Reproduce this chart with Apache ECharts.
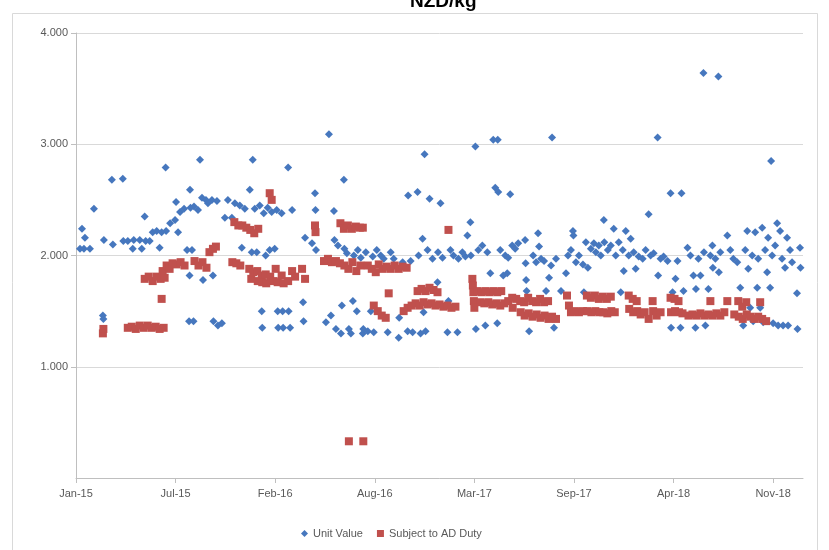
<!DOCTYPE html>
<html>
<head>
<meta charset="utf-8">
<script src="https://cdn.jsdelivr.net/npm/echarts@6/dist/echarts.min.js"></script>
<style>
  html, body { margin: 0; padding: 0; background: #fff; }
  #chart { width: 829px; height: 550px; }
</style>
</head>
<body>
<div id="chart"></div>
<script>
// Weekly unit values, NZD per kg
const unitValue = [
  ['2015-01-09',2.06],['2015-01-13',2.24],['2015-01-17',2.06],['2015-01-19',2.16],['2015-01-29',2.06],
  ['2015-02-06',2.42],['2015-02-24',1.46],['2015-02-25',1.43],['2015-02-26',2.14],['2015-03-14',2.68],
  ['2015-03-16',2.10],['2015-04-05',2.69],['2015-04-06',2.13],['2015-04-15',2.13],['2015-04-25',2.06],
  ['2015-04-27',2.14],['2015-05-09',2.14],['2015-05-13',2.06],['2015-05-19',2.35],['2015-05-21',2.13],
  ['2015-05-29',2.13],['2015-06-04',2.21],['2015-06-12',2.22],['2015-06-18',2.07],['2015-06-22',2.21],
  ['2015-06-30',2.79],['2015-07-01',2.22],['2015-07-09',2.29],['2015-07-19',2.32],['2015-07-21',2.48],
  ['2015-07-25',2.21],['2015-07-29',2.39],['2015-08-06',2.42],['2015-08-12',2.05],['2015-08-16',1.41],
  ['2015-08-17',1.82],['2015-08-18',2.59],['2015-08-19',2.43],['2015-08-22',2.05],['2015-08-25',1.41],
  ['2015-08-26',2.44],['2015-09-03',2.41],['2015-09-07',2.86],['2015-09-11',2.52],['2015-09-13',1.78],
  ['2015-09-19',2.50],['2015-09-23',2.47],['2015-10-01',2.50],['2015-10-03',1.82],['2015-10-04',1.41],
  ['2015-10-11',2.49],['2015-10-13',1.37],['2015-10-21',1.39],['2015-10-27',2.34],['2015-11-02',2.50],
  ['2015-11-10',2.34],['2015-11-16',2.47],['2015-11-26',2.45],['2015-11-30',2.07],['2015-12-06',2.42],
  ['2015-12-16',2.59],['2015-12-20',2.03],['2015-12-22',2.86],['2015-12-26',2.42],['2015-12-30',2.03],
  ['2016-01-05',2.45],['2016-01-09',1.50],['2016-01-10',1.35],['2016-01-13',2.38],['2016-01-17',2.00],
  ['2016-01-21',2.43],['2016-01-25',2.05],['2016-01-29',2.39],['2016-02-04',2.06],['2016-02-08',2.41],
  ['2016-02-10',1.50],['2016-02-11',1.35],['2016-02-18',2.38],['2016-02-20',1.50],['2016-02-21',1.35],
  ['2016-03-02',2.79],['2016-03-03',1.50],['2016-03-06',1.35],['2016-03-10',2.41],['2016-04-01',1.58],
  ['2016-04-02',1.41],['2016-04-05',2.16],['2016-04-19',2.11],['2016-04-25',2.56],['2016-04-26',2.41],
  ['2016-04-27',2.05],['2016-05-17',1.40],['2016-05-23',3.09],['2016-05-27',1.46],['2016-06-02',2.40],
  ['2016-06-03',2.14],['2016-06-06',1.34],['2016-06-10',2.09],['2016-06-16',1.30],['2016-06-18',1.55],
  ['2016-06-22',2.68],['2016-06-23',2.06],['2016-06-28',2.02],['2016-07-02',1.34],['2016-07-06',1.30],
  ['2016-07-10',1.59],['2016-07-12',2.00],['2016-07-18',1.50],['2016-07-20',2.05],['2016-07-26',1.98],
  ['2016-07-30',1.30],['2016-07-31',1.34],['2016-08-05',2.03],['2016-08-09',1.32],['2016-08-15',1.50],
  ['2016-08-19',1.99],['2016-08-21',1.31],['2016-08-27',2.05],['2016-09-04',2.00],['2016-09-10',1.97],
  ['2016-09-18',1.31],['2016-09-24',2.03],['2016-09-30',1.97],['2016-10-10',1.26],['2016-10-11',1.44],
  ['2016-10-18',1.94],['2016-10-28',1.32],['2016-10-29',2.54],['2016-11-03',1.95],['2016-11-07',1.31],
  ['2016-11-17',2.57],['2016-11-19',2.00],['2016-11-23',1.30],['2016-11-27',2.15],['2016-11-29',1.49],
  ['2016-12-01',2.91],['2016-12-03',1.32],['2016-12-07',2.05],['2016-12-11',2.51],['2016-12-17',1.97],
  ['2016-12-27',1.76],['2016-12-28',2.03],['2017-01-02',2.47],['2017-01-06',1.98],['2017-01-16',1.31],
  ['2017-01-18',1.59],['2017-01-22',2.05],['2017-01-28',2.00],['2017-02-05',1.31],['2017-02-07',1.97],
  ['2017-02-15',2.03],['2017-02-21',1.99],['2017-02-25',2.18],['2017-03-03',2.30],['2017-03-04',2.00],
  ['2017-03-13',2.98],['2017-03-14',1.34],['2017-03-19',2.05],['2017-03-27',2.09],['2017-04-02',1.37],
  ['2017-04-06',2.03],['2017-04-12',1.84],['2017-04-18',3.04],['2017-04-22',2.61],['2017-04-26',1.39],
  ['2017-04-27',3.04],['2017-04-28',2.57],['2017-05-02',2.05],['2017-05-08',1.82],['2017-05-12',2.00],
  ['2017-05-16',1.84],['2017-05-18',1.98],['2017-05-22',2.55],['2017-05-26',2.09],['2017-06-01',2.06],
  ['2017-06-07',2.11],['2017-06-21',2.14],['2017-06-22',1.93],['2017-06-23',1.78],['2017-06-24',1.68],
  ['2017-06-29',1.32],['2017-07-07',2.00],['2017-07-13',1.94],['2017-07-17',2.20],['2017-07-19',2.08],
  ['2017-07-23',1.97],['2017-07-29',1.95],['2017-08-02',1.68],['2017-08-08',1.80],['2017-08-12',1.91],
  ['2017-08-14',3.06],['2017-08-18',1.35],['2017-08-22',1.97],['2017-09-01',1.68],['2017-09-11',1.84],
  ['2017-09-15',2.00],['2017-09-21',2.05],['2017-09-25',2.22],['2017-09-26',2.18],['2017-10-01',1.94],
  ['2017-10-07',2.00],['2017-10-15',1.92],['2017-10-17',1.67],['2017-10-21',2.12],['2017-10-25',1.89],
  ['2017-10-31',2.06],['2017-11-06',2.11],['2017-11-10',2.03],['2017-11-16',2.09],['2017-11-20',2.00],
  ['2017-11-26',2.32],['2017-11-27',2.12],['2017-12-04',2.05],['2017-12-10',2.09],['2017-12-16',2.24],
  ['2017-12-20',2.00],['2017-12-26',2.12],['2017-12-30',1.67],['2018-01-03',2.05],['2018-01-05',1.86],
  ['2018-01-09',2.22],['2018-01-15',2.00],['2018-01-19',2.15],['2018-01-25',2.03],['2018-01-29',1.88],
  ['2018-02-04',1.99],['2018-02-12',1.97],['2018-02-18',2.05],['2018-02-24',2.37],['2018-02-28',2.00],
  ['2018-03-06',2.02],['2018-03-14',3.06],['2018-03-15',1.82],['2018-03-20',1.97],['2018-03-26',1.99],
  ['2018-04-03',1.95],['2018-04-09',2.56],['2018-04-10',1.35],['2018-04-13',1.67],['2018-04-19',1.79],
  ['2018-04-23',1.95],['2018-04-29',1.35],['2018-05-01',2.56],['2018-05-05',1.68],['2018-05-13',2.07],
  ['2018-05-19',2.00],['2018-05-25',1.82],['2018-05-29',1.35],['2018-05-30',1.70],['2018-06-04',1.97],
  ['2018-06-08',1.82],['2018-06-14',3.64],['2018-06-15',2.03],['2018-06-18',1.37],['2018-06-24',1.70],
  ['2018-06-28',2.00],['2018-07-02',2.09],['2018-07-03',1.89],['2018-07-08',1.97],['2018-07-14',3.61],
  ['2018-07-15',1.85],['2018-07-18',2.03],['2018-08-01',2.18],['2018-08-07',2.05],['2018-08-13',1.97],
  ['2018-08-21',1.94],['2018-08-27',1.71],['2018-09-02',1.37],['2018-09-06',2.05],['2018-09-10',2.22],
  ['2018-09-12',1.88],['2018-09-16',1.53],['2018-09-20',2.00],['2018-09-22',1.41],['2018-09-26',2.21],
  ['2018-09-30',1.71],['2018-10-02',1.97],['2018-10-06',1.53],['2018-10-10',2.25],['2018-10-12',1.40],
  ['2018-10-16',2.05],['2018-10-20',1.85],['2018-10-22',2.16],['2018-10-26',1.71],['2018-10-28',2.85],
  ['2018-10-30',2.00],['2018-11-01',1.39],['2018-11-05',2.09],['2018-11-09',2.29],['2018-11-11',1.37],
  ['2018-11-15',2.22],['2018-11-19',1.97],['2018-11-21',1.37],['2018-11-25',1.89],['2018-11-29',2.16],
  ['2018-12-01',1.37],['2018-12-05',2.05],['2018-12-09',1.94],['2018-12-19',1.66],['2018-12-20',1.34],
  ['2018-12-25',2.07],['2018-12-26',1.89]
];

// Unit values of shipments subject to anti-dumping duty, NZD per kg
const subjectToAD = [
  ['2015-02-24',1.30],['2015-02-25',1.34],['2015-04-15',1.35],['2015-04-23',1.36],['2015-05-01',1.34],
  ['2015-05-09',1.37],['2015-05-17',1.35],['2015-05-19',1.79],['2015-05-25',1.37],['2015-05-27',1.81],
  ['2015-06-02',1.35],['2015-06-04',1.77],['2015-06-10',1.36],['2015-06-12',1.81],['2015-06-18',1.34],
  ['2015-06-20',1.79],['2015-06-22',1.61],['2015-06-24',1.86],['2015-06-26',1.35],['2015-06-28',1.80],
  ['2015-07-02',1.91],['2015-07-08',1.88],['2015-07-14',1.93],['2015-07-22',1.92],['2015-07-30',1.94],
  ['2015-08-07',1.91],['2015-08-27',1.95],['2015-09-04',1.91],['2015-09-12',1.94],['2015-09-20',1.89],
  ['2015-09-26',2.03],['2015-10-03',2.06],['2015-10-09',2.08],['2015-11-11',1.94],['2015-11-15',2.30],
  ['2015-11-19',1.93],['2015-11-23',2.27],['2015-11-27',1.91],['2015-12-01',2.27],['2015-12-09',2.25],
  ['2015-12-15',1.88],['2015-12-17',2.23],['2015-12-19',1.79],['2015-12-23',1.85],['2015-12-25',2.20],
  ['2015-12-31',1.86],['2016-01-01',1.77],['2016-01-02',2.24],['2016-01-09',1.82],['2016-01-10',1.76],
  ['2016-01-17',1.83],['2016-01-18',1.75],['2016-01-25',2.56],['2016-01-26',1.81],['2016-01-29',2.50],
  ['2016-02-02',1.77],['2016-02-06',1.88],['2016-02-10',1.76],['2016-02-18',1.82],['2016-02-22',1.75],
  ['2016-03-02',1.77],['2016-03-10',1.86],['2016-03-16',1.81],['2016-03-30',1.88],['2016-04-05',1.79],
  ['2016-04-25',2.27],['2016-04-26',2.21],['2016-05-13',1.95],['2016-05-21',1.97],['2016-05-29',1.94],
  ['2016-06-06',1.95],['2016-06-14',1.93],['2016-06-15',2.29],['2016-06-22',2.24],['2016-06-23',1.91],
  ['2016-06-30',2.27],['2016-07-01',1.88],['2016-07-02',0.33],['2016-07-08',2.24],['2016-07-09',1.94],
  ['2016-07-16',2.26],['2016-07-17',1.86],['2016-07-24',2.25],['2016-07-25',1.91],['2016-07-30',2.25],
  ['2016-07-31',0.33],['2016-08-09',1.91],['2016-08-17',1.88],['2016-08-21',1.55],['2016-08-25',1.85],
  ['2016-08-29',1.50],['2016-08-31',1.92],['2016-09-06',1.46],['2016-09-08',1.88],['2016-09-14',1.44],
  ['2016-09-16',1.90],['2016-09-20',1.66],['2016-09-24',1.88],['2016-10-02',1.91],['2016-10-10',1.88],
  ['2016-10-18',1.90],['2016-10-20',1.50],['2016-10-26',1.89],['2016-10-28',1.53],['2016-11-05',1.55],
  ['2016-11-13',1.57],['2016-11-17',1.68],['2016-11-21',1.55],['2016-11-25',1.70],['2016-11-29',1.58],
  ['2016-12-03',1.68],['2016-12-07',1.56],['2016-12-11',1.71],['2016-12-15',1.57],['2016-12-19',1.69],
  ['2016-12-23',1.55],['2016-12-27',1.67],['2016-12-31',1.56],['2017-01-08',1.54],['2017-01-16',1.55],
  ['2017-01-18',2.23],['2017-01-24',1.53],['2017-02-01',1.54],['2017-03-07',1.79],['2017-03-08',1.73],
  ['2017-03-09',1.67],['2017-03-10',1.59],['2017-03-11',1.53],['2017-03-17',1.68],['2017-03-23',1.58],
  ['2017-03-25',1.67],['2017-03-31',1.57],['2017-04-02',1.68],['2017-04-08',1.58],['2017-04-10',1.67],
  ['2017-04-16',1.56],['2017-04-18',1.68],['2017-04-24',1.57],['2017-04-26',1.67],['2017-05-02',1.55],
  ['2017-05-04',1.68],['2017-05-10',1.57],['2017-05-18',1.59],['2017-05-26',1.62],['2017-05-27',1.53],
  ['2017-06-03',1.61],['2017-06-11',1.59],['2017-06-12',1.49],['2017-06-19',1.58],['2017-06-20',1.46],
  ['2017-06-27',1.62],['2017-06-28',1.48],['2017-07-05',1.59],['2017-07-06',1.45],['2017-07-13',1.58],
  ['2017-07-14',1.47],['2017-07-21',1.61],['2017-07-22',1.44],['2017-07-29',1.58],['2017-07-30',1.46],
  ['2017-08-06',1.59],['2017-08-07',1.43],['2017-08-14',1.45],['2017-08-22',1.43],['2017-09-13',1.64],
  ['2017-09-17',1.55],['2017-09-21',1.49],['2017-09-29',1.50],['2017-10-07',1.49],['2017-10-15',1.50],
  ['2017-10-23',1.64],['2017-10-24',1.50],['2017-10-31',1.62],['2017-11-01',1.49],['2017-11-08',1.64],
  ['2017-11-09',1.50],['2017-11-16',1.61],['2017-11-17',1.49],['2017-11-24',1.63],['2017-11-25',1.49],
  ['2017-12-02',1.61],['2017-12-03',1.48],['2017-12-10',1.63],['2017-12-11',1.50],['2017-12-18',1.49],
  ['2018-01-15',1.64],['2018-01-16',1.52],['2018-01-23',1.61],['2018-01-24',1.49],['2018-01-31',1.59],
  ['2018-02-01',1.50],['2018-02-08',1.47],['2018-02-16',1.49],['2018-02-24',1.43],['2018-03-04',1.59],
  ['2018-03-05',1.50],['2018-03-12',1.46],['2018-03-20',1.49],['2018-04-09',1.62],['2018-04-10',1.49],
  ['2018-04-17',1.61],['2018-04-18',1.50],['2018-04-25',1.59],['2018-04-26',1.49],['2018-05-03',1.48],
  ['2018-05-15',1.46],['2018-05-23',1.47],['2018-05-31',1.46],['2018-06-08',1.48],['2018-06-16',1.46],
  ['2018-06-24',1.47],['2018-06-28',1.59],['2018-07-02',1.46],['2018-07-10',1.48],['2018-07-18',1.46],
  ['2018-07-26',1.49],['2018-08-01',1.59],['2018-08-15',1.47],['2018-08-23',1.59],['2018-08-24',1.45],
  ['2018-08-31',1.54],['2018-09-01',1.43],['2018-09-08',1.58],['2018-09-09',1.47],['2018-09-16',1.45],
  ['2018-09-24',1.43],['2018-10-02',1.45],['2018-10-06',1.58],['2018-10-10',1.43],['2018-10-18',1.41]
];

const seriesNames = ['Unit Value', 'Subject to AD Duty'];
const chartTitle = 'NZD/kg';
const yTicks = [0, 1, 2, 3, 4];
// date axis: one label every 200 days from 1 Jan 2015
const axisStart = '2015-01-01';
const axisEnd = '2018-12-31';
const dayStep = 200;

const MONTHS = ['Jan','Feb','Mar','Apr','May','Jun','Jul','Aug','Sep','Oct','Nov','Dec'];
const DAY_MS = 86400000;
const t0 = Date.parse(axisStart + 'T00:00:00Z');
const toDay = s => Math.round((Date.parse(s + 'T00:00:00Z') - t0) / DAY_MS);
const dayLabel = d => {
  const dt = new Date(t0 + d * DAY_MS);
  return MONTHS[dt.getUTCMonth()] + '-' + String(dt.getUTCFullYear()).slice(2);
};
const xMax = toDay(axisEnd);
const xTicks = [];
for (let d = 0; d <= xMax; d += dayStep) xTicks.push(d);

const toPoints = arr => arr.map(([d, v]) => [toDay(d), v]);

const labelFont = { fontFamily: 'Liberation Sans, Arial, sans-serif', fontSize: 11, color: '#595959' };

const chart = echarts.init(document.getElementById('chart'), null, { renderer: 'canvas' });
chart.setOption({
  animation: false,
  backgroundColor: '#ffffff',
  title: {
    text: chartTitle,
    left: 405,
    top: -13,
    textStyle: { fontFamily: 'Liberation Sans, Arial, sans-serif', fontSize: 19, fontWeight: 'bold', color: '#000' }
  },
  graphic: [{
    type: 'rect',
    shape: { x: 12.5, y: 13.5, width: 805, height: 550 },
    style: { fill: 'none', stroke: '#d9d9d9', lineWidth: 1 },
    silent: true,
    z: -1
  }],
  grid: { left: 76, right: 26, top: 33, bottom: 72, containLabel: false },
  legend: {
    data: seriesNames,
    left: 296,
    top: 523,
    itemWidth: 7,
    itemHeight: 7,
    itemGap: 14,
    textStyle: labelFont
  },
  xAxis: {
    type: 'value',
    min: 0,
    max: xMax,
    interval: dayStep,
    splitLine: { show: false },
    axisLine: { show: true, onZero: false, lineStyle: { color: '#bfbfbf' } },
    axisTick: { show: true, length: 5, customValues: xTicks, lineStyle: { color: '#bfbfbf' } },
    axisLabel: Object.assign({ margin: 10, customValues: xTicks, formatter: v => dayLabel(v) }, labelFont)
  },
  yAxis: {
    type: 'value',
    min: yTicks[0],
    max: yTicks[yTicks.length - 1],
    interval: 1,
    splitLine: { show: true, lineStyle: { color: '#d9d9d9' } },
    axisLine: { show: true, lineStyle: { color: '#bfbfbf' } },
    axisTick: { show: true, length: 5, lineStyle: { color: '#bfbfbf' } },
    axisLabel: Object.assign({ margin: 8, showMinLabel: false, formatter: v => v.toFixed(3) }, labelFont)
  },
  series: [
    {
      name: seriesNames[0],
      type: 'scatter',
      symbol: 'diamond',
      symbolSize: 8,
      itemStyle: { color: '#4677be', opacity: 1 },
      data: toPoints(unitValue),
      z: 2
    },
    {
      name: seriesNames[1],
      type: 'scatter',
      symbol: 'rect',
      symbolSize: 8,
      itemStyle: { color: '#c0504d', opacity: 1 },
      data: toPoints(subjectToAD),
      z: 3
    }
  ]
});
</script>
</body>
</html>
